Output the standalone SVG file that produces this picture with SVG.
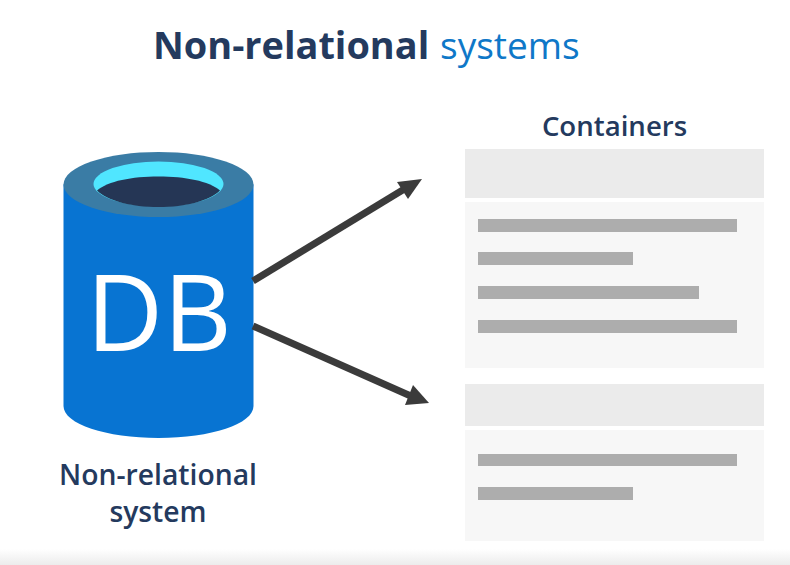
<svg xmlns="http://www.w3.org/2000/svg" width="790" height="565" viewBox="0 0 790 565">
<defs>
<style>
text{font-family:"Open Sans","Noto Sans","Liberation Sans",sans-serif}
.head{fill:#ebebeb}
.body{fill:#f7f7f7}
.bar{fill:#adadad}
.lbl{fill:#243a5e;font-size:28.3px;font-weight:600;text-anchor:middle}
.conn{stroke:#3b3b3b;stroke-width:7;fill:none}
.tip{fill:#3b3b3b}
</style>
<linearGradient id="fade" x1="0" y1="0" x2="0" y2="1"><stop offset="0" stop-color="#fff"/><stop offset="1" stop-color="#ececec"/></linearGradient>
</defs>
<rect width="790" height="565" fill="#fff"/>
<rect y="549" width="790" height="16" fill="url(#fade)"/>
<g id="title"><text x="153" y="59" style="font-size:37.900px;font-weight:700" fill="#243a5e">Non-relational <tspan x="440" fill="#0f78c8" font-weight="400" font-size="37">systems</tspan></text></g>
<g id="db">
<path d="M63.500 184.500V406C63.500 424 106 438 158.500 438S253.500 424 253.500 406V184.500Z" fill="#0874d2"/>
<ellipse cx="158.500" cy="184.500" rx="95" ry="32.500" fill="#3a7ca5"/>
<ellipse cx="158.500" cy="184" rx="65" ry="22.500" fill="#50e6ff"/>
<path d="M97 190.500C108 181 132 176.500 158.500 176.500S209 181 220 190.500C209 201 186 207 158.500 207S108 201 97 190.500Z" fill="#253655"/>
<text x="159" y="351" style="font-size:106px" fill="#fff" text-anchor="middle">DB</text>
</g>
<g id="db-label"><text class="lbl" x="158" y="485">Non-relational</text><text class="lbl" x="158" y="522">system</text></g>
<g id="connectors">
<path class="conn" d="M253 281L406 188"/>
<path class="tip" d="M422 179L397 182L408 199Z"/>
<path class="conn" d="M253 326L413 397"/>
<path class="tip" d="M429 403L413 385L405 405Z"/>
</g>
<g id="containers-label"><text x="614.500" y="136" style="font-size:27.600px;font-weight:600;text-anchor:middle" fill="#243a5e">Containers</text></g>
<g id="container-1">
<rect class="head" x="465" y="149" width="299" height="49"/>
<rect class="body" x="465" y="202" width="299" height="166"/>
<rect class="bar" x="478" y="219" width="259" height="13"/>
<rect class="bar" x="478" y="252" width="155" height="13"/>
<rect class="bar" x="478" y="286" width="221" height="13"/>
<rect class="bar" x="478" y="320" width="259" height="13"/>
</g>
<g id="container-2">
<rect class="head" x="465" y="384" width="299" height="42"/>
<rect class="body" x="465" y="430" width="299" height="111"/>
<rect class="bar" x="478" y="454" width="259" height="12"/>
<rect class="bar" x="478" y="487" width="155" height="13"/>
</g>
</svg>
